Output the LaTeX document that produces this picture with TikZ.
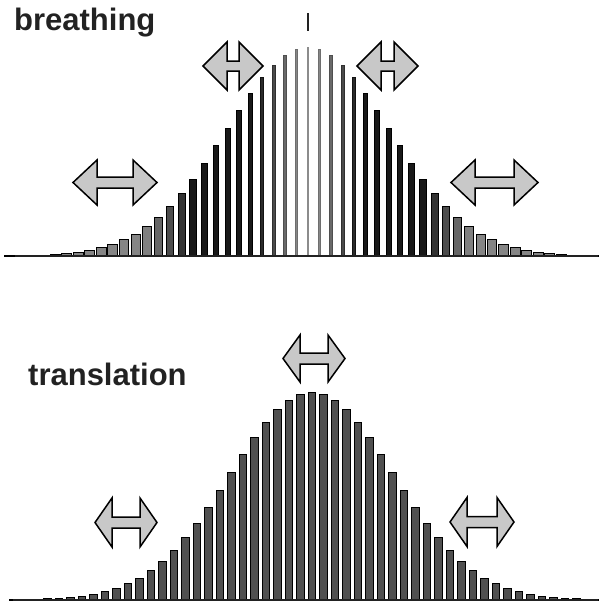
\documentclass[tikz,border=0pt]{standalone}
\usepackage{fontspec}
\setmainfont{Liberation Sans}
\usepackage{tikz}
\usetikzlibrary{positioning}
\definecolor{inkgray}{RGB}{34,34,34}
\definecolor{arrowgray}{RGB}{200,200,200}
\definecolor{bargray}{RGB}{80,80,80}

% two-headed block arrow: centre x, centre y, half length, head length, half head, half shaft
\newcommand{\twoway}[6]{%
  \draw[blockarrow] ({#1-#3},#2) -- ({#1-#3+#4},{#2-#5}) -- ({#1-#3+#4},{#2-#6})
    -- ({#1+#3-#4},{#2-#6}) -- ({#1+#3-#4},{#2-#5}) -- ({#1+#3},#2)
    -- ({#1+#3-#4},{#2+#5}) -- ({#1+#3-#4},{#2+#6}) -- ({#1-#3+#4},{#2+#6})
    -- ({#1-#3+#4},{#2+#5}) -- cycle;}

\begin{document}
\begin{tikzpicture}[
    x=1pt, y=-1pt,
    title/.style={
        anchor=base west,
        inner sep=0pt,
        text=inkgray,
        font=\fontsize{31}{36}\selectfont\bfseries
    },
    breathbar/.style={
        line width=0.8pt
    },
    transbar/.style={
        draw=black,
        line width=1pt,
        fill=bargray
    },
    axis/.style={line width=2pt, draw=inkgray},
    blockarrow/.style={line width=1.5pt, draw=black, fill=arrowgray, line join=miter}
]
\useasboundingbox (0,0) rectangle (598,605);

% breathing panel
\node[title] (breathing) at (14,30) {breathing};
\draw[line width=2pt, draw=inkgray] (308,13) -- (308,31);
\foreach \n in {-26,...,26}{
    \pgfmathsetmacro{\h}{209*exp(-\n*\n/100)}
    \pgfmathsetmacro{\w}{min(10,1.6+0.5*abs(\n))}
    \pgfmathtruncatemacro{\c}{min(100,45+12*abs(\n))}
    \pgfmathtruncatemacro{\f}{abs(\n)<10 ? \c-10 : max(48,90-10*(abs(\n)-10))}
    \pgfmathsetmacro{\xc}{308+11.5*\n}
    \draw[breathbar, draw=black!\c, fill=black!\f] ({\xc-\w/2},256) rectangle ({\xc+\w/2},{256-\h});
}
\draw[axis] (15,256) -- (598,256);
\twoway{233}{66}{30}{24}{24}{5}
\twoway{387.5}{66}{30.5}{24}{24}{5}
\twoway{115}{182.5}{42}{24}{22.5}{5.5}
\twoway{494.5}{182.5}{43.5}{24}{22.5}{5.5}

% translation panel
\node[title] (translation) at (28,385) {translation};
\foreach \n in {-26,...,26}{
    \pgfmathsetmacro{\h}{208*exp(-\n*\n/100)}
    \pgfmathsetmacro{\xc}{312+11.5*\n}
    \draw[transbar] ({\xc-3.75},600) rectangle ({\xc+3.75},{600-\h});
}
\draw[axis] (13,600) -- (598,600);
\twoway{314}{358.5}{31}{17}{23.5}{5.5}
\twoway{126}{522.5}{31}{17}{24.5}{5.5}
\twoway{482}{522}{32}{17}{24.5}{5.5}

\end{tikzpicture}
\end{document}
